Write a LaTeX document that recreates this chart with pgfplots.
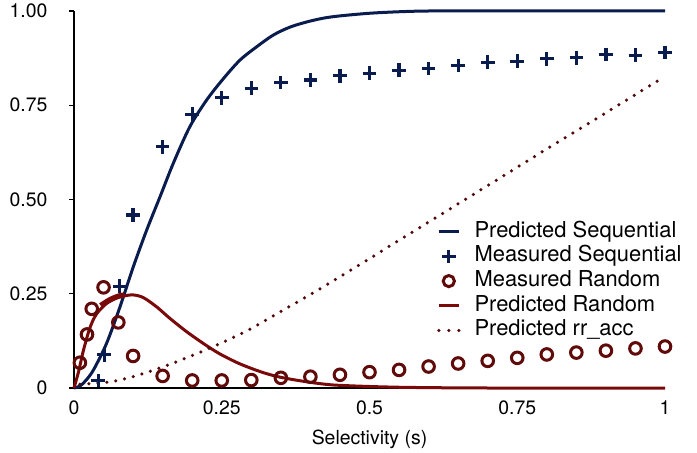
\documentclass[border=0pt]{standalone}
\usepackage{fontspec}
\setmainfont{TeX Gyre Heros}
\usepackage{pgfplots}
\pgfplotsset{compat=1.18}
\definecolor{navy}{RGB}{10,28,78}
\definecolor{maroon}{RGB}{122,10,10}
\definecolor{darkmaroon}{RGB}{96,10,10}
\definecolor{dotmaroon}{RGB}{80,10,10}
\begin{document}
\begin{tikzpicture}
\begin{axis}[
  scale only axis,
  width=591bp, height=377bp,
  xmin=0, xmax=1, ymin=0, ymax=1,
  axis x line=bottom, axis y line=left,
  axis line style={-, black, line width=1.2bp},
  xtick={0,0.25,0.5,0.75,1},
  xticklabels={0,0.25,0.5,0.75,1},
  ytick={0,0.25,0.5,0.75,1},
  yticklabels={0,0.25,0.50,0.75,1.00},
  x tick style={draw=none},
  y tick style={black, line width=1.2bp},
  tick align=outside,
  major tick length=5bp,
  /pgf/number format/assume math mode=true,
  ticklabel style={font=\fontsize{19.5}{22}\selectfont},
  xticklabel style={yshift=-4bp},
  yticklabel style={xshift=-18bp},
  xlabel={Selectivity (s)},
  xlabel style={font=\fontsize{19.5}{22}\selectfont, yshift=-9bp},
  clip=false,
  legend cell align=left,
  legend style={draw=none, fill=none, font=\fontsize{22}{26}\selectfont,
    at={(rel axis cs:0.614,0.443)}, anchor=north west,
    nodes={inner sep=0pt, text height=16bp, text depth=5bp},
    row sep=3.7bp, column sep=13bp, inner sep=0pt},
]
% Predicted Sequential
\addplot[navy, line width=3bp, smooth, legend image code/.code={\draw[navy, line width=3bp] (0bp,0bp) -- (20bp,0bp);}] coordinates {
(0,0) (0.01,0.005) (0.02,0.02) (0.033,0.048) (0.055,0.118) (0.078,0.216)
(0.1,0.32) (0.123,0.419) (0.1455,0.507) (0.168,0.596) (0.196,0.693) (0.2245,0.764)
(0.253,0.821) (0.281,0.87) (0.309,0.905) (0.337,0.936) (0.365,0.957) (0.394,0.971)
(0.422,0.981) (0.45,0.987) (0.5,0.994) (0.55,0.998) (0.6,1) (0.7,1) (1,1)};
\addlegendentry{Predicted Sequential}
% Measured Sequential
\addplot[only marks, mark=+, mark size=6.8bp, mark options={navy, line width=3.2bp},
  legend image code/.code={\draw[navy, line width=3.2bp] plot[mark=+, mark size=6.8bp] coordinates {(10bp,0bp)};}] coordinates {
(0.041,0.02) (0.051,0.088) (0.077,0.27) (0.1,0.459) (0.15,0.64) (0.2,0.726)
(0.25,0.77) (0.3,0.795) (0.35,0.81) (0.4,0.817) (0.45,0.828) (0.5,0.835)
(0.55,0.843) (0.6,0.848) (0.65,0.855) (0.7,0.864) (0.75,0.867) (0.8,0.873)
(0.85,0.876) (0.9,0.885) (0.95,0.883) (1.0,0.89)};
\addlegendentry{Measured Sequential}
% Measured Random
\addplot[only marks, mark=o, mark size=5.8bp, mark options={darkmaroon, line width=3bp},
  legend image code/.code={\draw[darkmaroon, line width=3bp] plot[mark=o, mark size=5.6bp] coordinates {(10bp,0bp)};}] coordinates {
(0.01,0.067) (0.022,0.142) (0.03,0.21) (0.05,0.267) (0.075,0.174) (0.1,0.085)
(0.15,0.032) (0.2,0.02) (0.25,0.02) (0.3,0.021) (0.35,0.027) (0.4,0.03)
(0.45,0.035) (0.5,0.042) (0.55,0.048) (0.6,0.057) (0.65,0.065) (0.7,0.072)
(0.75,0.08) (0.8,0.089) (0.85,0.094) (0.9,0.099) (0.95,0.105) (1.0,0.11)};
\addlegendentry{Measured Random}
% Predicted Random
\addplot[maroon, line width=3bp, smooth, legend image code/.code={\draw[maroon, line width=3bp] (0bp,0bp) -- (20bp,0bp);}] coordinates {
(0,0) (0.008,0.045) (0.016,0.1) (0.027,0.16) (0.038,0.196) (0.055,0.224)
(0.075,0.24) (0.098,0.247) (0.117,0.24) (0.14,0.215) (0.162,0.185) (0.19,0.15)
(0.219,0.118) (0.245,0.092) (0.275,0.068) (0.3,0.052) (0.326,0.038) (0.354,0.027)
(0.4,0.015) (0.439,0.008) (0.5,0.004) (0.55,0.002) (0.6,0.001) (0.7,0) (1,0)};
\addlegendentry{Predicted Random}
% Predicted rr_acc
\addplot[dotmaroon, line width=3.5bp, line cap=round, dash pattern=on 0bp off 9bp, smooth,
  legend image code/.code={\draw[dotmaroon, line width=3.5bp, line cap=round, dash pattern=on 0bp off 10bp] (0bp,0bp) -- (21bp,0bp);}] coordinates {
(0.01,0.01) (0.06,0.016) (0.1,0.03) (0.15,0.056) (0.2,0.086) (0.25,0.12)
(0.3,0.158) (0.35,0.203) (0.4,0.248) (0.45,0.295) (0.5,0.343) (0.55,0.392)
(0.6,0.44) (0.7,0.537) (0.8,0.634) (0.9,0.73) (0.99,0.817)};
\addlegendentry{Predicted rr\_acc}
% thick blob on predicted random
\addplot[maroon, line width=5bp, smooth, forget plot] coordinates {
(0.045,0.219) (0.06,0.234) (0.075,0.244) (0.085,0.247)};
\end{axis}
\pgfresetboundingbox
\path ([xshift=-74bp,yshift=-65bp]current axis.south west) rectangle ([xshift=32bp,yshift=11bp]current axis.north east);
\end{tikzpicture}
\end{document}
